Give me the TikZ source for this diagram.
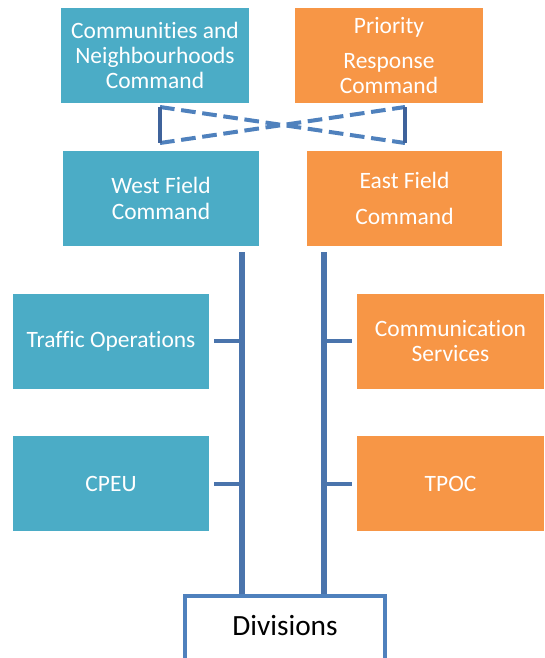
\documentclass[tikz,border=0pt]{standalone}
\usepackage{fontspec}
\setmainfont[Ligatures=NoCommon]{Carlito}
\definecolor{teal1}{HTML}{4BACC6}
\definecolor{orng}{HTML}{F79646}
\definecolor{lnblue}{HTML}{4A74AC}
\definecolor{dshblue}{HTML}{4F81BD}
\definecolor{brk}{HTML}{3F639B}
\begin{document}
\begin{tikzpicture}[x=0.75pt,y=-0.75pt,
  box/.style={draw=none,minimum height=95*0.75pt,inner sep=0pt,align=center,text=white,
    font=\fontsize{17.6}{19}\selectfont},
  tbox/.style={box,fill=teal1},
  obox/.style={box,fill=orng},
  conn/.style={draw=lnblue,line width=4.2pt},
  tick/.style={draw=lnblue,line width=3pt},
  dsh/.style={draw=dshblue,line width=3pt,dash pattern=on 11pt off 5pt},
  brkline/.style={draw=brk,line width=3.5pt}]
\clip (0,0) rectangle (544,658);
\fill[white] (0,0) rectangle (544,658);
% top boxes
\node[tbox,minimum width=188*0.75pt] (cnc) at (155,55.5) {Communities and\\Neighbourhoods\\Command};
\node[obox,minimum width=188*0.75pt] (prc) at (389,55.5) {Priority\\[7pt]Response\\Command};
% field commands
\node[tbox,minimum width=196*0.75pt] (west) at (161,198.5) {West Field\\Command};
\node[obox,minimum width=195*0.75pt] (east) at (404.5,198.5) {East Field\\[8pt]Command};
% units
\node[tbox,minimum width=196*0.75pt] (traffic) at (111,341) {Traffic Operations};
\node[obox,minimum width=187*0.75pt] (comm) at (450.5,341) {Communication\\Services};
\node[tbox,minimum width=196*0.75pt] (cpeu) at (111,483.5) {CPEU};
\node[obox,minimum width=187*0.75pt] (tpoc) at (450.5,483.5) {TPOC};
% divisions
\node[draw=dshblue,line width=3pt,fill=white,minimum width=200*0.75pt,minimum height=74*0.75pt,
  inner sep=0pt,font=\fontsize{22}{24}\selectfont] (div) at (285,633) {\raisebox{11pt}{Divisions}};
% bracket
\coordinate (bl1) at (160,107);
\coordinate (bl2) at (160,143);
\coordinate (br1) at (405,107);
\coordinate (br2) at (405,143);
\draw[dsh] (bl1) -- (br2);
\draw[dsh] (bl2) -- (br1);
\draw[brkline] (bl1) -- (bl2);
\draw[brkline] (br1) -- (br2);
% vertical connectors
\coordinate (wtop) at (242,252);
\coordinate (etop) at (324,252);
\draw[conn] (wtop) -- (wtop |- div.north);
\draw[conn] (etop) -- (etop |- div.north);
% ticks
\draw[tick] ([xshift=5*0.75pt]traffic.east) -- (traffic.east -| wtop);
\draw[tick] ([xshift=5*0.75pt]cpeu.east) -- (cpeu.east -| wtop);
\draw[tick] ([xshift=-5*0.75pt]comm.west) -- (comm.west -| etop);
\draw[tick] ([xshift=-5*0.75pt]tpoc.west) -- (tpoc.west -| etop);
\end{tikzpicture}
\end{document}
